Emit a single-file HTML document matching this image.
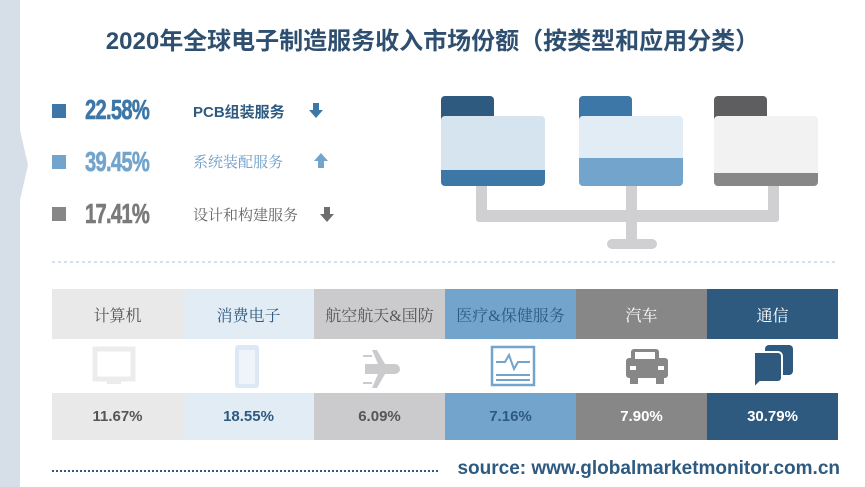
<!DOCTYPE html>
<html><head><meta charset="utf-8"><style>
*{margin:0;padding:0;box-sizing:border-box}
body{width:865px;height:487px;background:#fff;position:relative;overflow:hidden;font-family:"Liberation Sans","Noto Sans CJK SC",sans-serif}
.a{position:absolute}
.title{left:0;width:865px;top:21px;text-align:center;font-size:24px;font-weight:bold;color:#2e4f6f;padding-left:0px}
.sq{width:14px;height:14px;left:52px}
.num{left:85px;font-family:"Liberation Sans",sans-serif;font-weight:bold;font-size:28px;letter-spacing:-1px;transform:scaleX(0.72);transform-origin:left;-webkit-text-stroke:0.6px currentColor}
.lbl{left:193px;font-size:15px;font-family:"Liberation Serif","Noto Serif CJK SC",serif}
.cell{position:absolute;width:131px;display:flex;align-items:center;justify-content:center;font-size:16px;font-family:"Liberation Serif","Noto Serif CJK SC",serif}
.h{top:289px;height:50px}
.v{top:393px;height:47px;font-weight:bold;font-size:15px;font-family:"Liberation Sans",sans-serif}
</style></head><body>
<svg class="a" style="left:0;top:0" width="30" height="487"><polygon points="0,0 20,0 20,130 28,165 20,200 20,487 0,487" fill="#d6dfe8"/></svg>
<div class="a title">2020年全球电子制造服务收入市场份额（按类型和应用分类）</div>

<div class="a sq" style="top:104px;background:#3d77a8"></div>
<div class="a num" style="top:94px;color:#3d77a8">22.58%</div>
<div class="a lbl" style="top:101px;color:#2e5a80;font-weight:bold;font-family:'Liberation Sans','Noto Sans CJK SC',sans-serif">PCB组装服务</div>
<svg class="a" style="left:308px;top:103px" width="16" height="16"><polygon points="5,0 11,0 11,7 15,7 8,15 1,7 5,7" fill="#3d77a8"/></svg>

<div class="a sq" style="top:155px;background:#72a4cc"></div>
<div class="a num" style="top:146px;color:#72a4cc">39.45%</div>
<div class="a lbl" style="top:151px;color:#6a9cc7">系统装配服务</div>
<svg class="a" style="left:313px;top:153px" width="16" height="16"><polygon points="5,15 11,15 11,8 15,8 8,0 1,8 5,8" fill="#72a4cc"/></svg>

<div class="a sq" style="top:207px;background:#878787"></div>
<div class="a num" style="top:198px;color:#7a7a7a">17.41%</div>
<div class="a lbl" style="top:204px;color:#666">设计和构建服务</div>
<svg class="a" style="left:319px;top:207px" width="16" height="16"><polygon points="5,0 11,0 11,7 15,7 8,15 1,7 5,7" fill="#6e6e6e"/></svg>

<svg class="a" style="left:0;top:0" width="865" height="487">
<rect x="476" y="180" width="11" height="40" fill="#d0d0d2"/>
<rect x="626" y="180" width="11" height="62" fill="#d0d0d2"/>
<rect x="768" y="180" width="11" height="40" fill="#d0d0d2"/>
<rect x="476" y="210" width="303" height="12" rx="3" fill="#d0d0d2"/>
<rect x="607" y="239" width="50" height="10" rx="5" fill="#d0d0d2"/>
<rect x="441" y="96" width="53" height="30" rx="4" fill="#2e5a80"/>
<rect x="441" y="116" width="104" height="70" rx="4" fill="#d6e4f0"/>
<path d="M441,170h104v12a4,4 0 0 1-4,4h-96a4,4 0 0 1-4-4z" fill="#3d77a8"/>
<rect x="579" y="96" width="53" height="30" rx="4" fill="#3d77a8"/>
<rect x="579" y="116" width="104" height="70" rx="4" fill="#e2ecf5"/>
<path d="M579,158h104v24a4,4 0 0 1-4,4h-96a4,4 0 0 1-4-4z" fill="#72a4cc"/>
<rect x="714" y="96" width="53" height="30" rx="4" fill="#5e5e60"/>
<rect x="714" y="116" width="104" height="70" rx="4" fill="#f2f2f2"/>
<path d="M714,173h104v9a4,4 0 0 1-4,4h-96a4,4 0 0 1-4-4z" fill="#878787"/>
<line x1="52" y1="262" x2="838" y2="262" stroke="#a9c2d8" stroke-width="1" stroke-dasharray="3,3"/>
<line x1="52" y1="471" x2="440" y2="471" stroke="#2e5a80" stroke-width="2" stroke-dasharray="2,2"/>
<rect x="95" y="349" width="38" height="30" fill="none" stroke="#ececec" stroke-width="5"/>
<rect x="107" y="379" width="14" height="5" fill="#ececec"/>
<rect x="235" y="345" width="24" height="43" rx="3" fill="#dce8f3"/>
<rect x="239" y="350" width="16" height="34" fill="#eef4fa"/>
<g fill="#cbcbcd"><path d="M365,364h30a5,5 0 0 1 0,10h-30z"/><polygon points="378,364 385,364 377,350 372,350"/><polygon points="378,374 385,374 377,388 372,388"/><rect x="363" y="355" width="9" height="2"/><rect x="363" y="382" width="9" height="2"/></g>
<rect x="492" y="347" width="42" height="38" fill="none" stroke="#72a4cc" stroke-width="2.5"/>
<polyline points="496,362 505,362 509,355 514,369 518,362 530,362" fill="none" stroke="#72a4cc" stroke-width="2"/>
<rect x="496" y="374" width="34" height="2" fill="#72a4cc"/><rect x="496" y="379" width="34" height="2" fill="#72a4cc"/>
<g fill="#878787"><rect x="631" y="349" width="28" height="14" rx="3"/><rect x="626" y="358" width="42" height="20" rx="3"/><rect x="630" y="378" width="8" height="6"/><rect x="656" y="378" width="8" height="6"/></g>
<rect x="635" y="352" width="20" height="7" fill="#fff"/>
<rect x="630" y="366" width="6" height="4" fill="#fff"/><rect x="658" y="366" width="6" height="4" fill="#fff"/>
<rect x="765" y="345" width="28" height="30" rx="4" fill="#2e5a80"/>
<path d="M754,352h24a4,4 0 0 1 4,4v22a4,4 0 0 1-4,4h-18l-6,6z" fill="#2e5a80" stroke="#fff" stroke-width="2"/>
</svg>

<div class="cell h" style="left:52px;background:#e9e9e9;color:#555">计算机</div>
<div class="cell h" style="left:183px;background:#e2ecf5;color:#2e5a80">消费电子</div>
<div class="cell h" style="left:314px;background:#cbcbcd;color:#555">航空航天&amp;国防</div>
<div class="cell h" style="left:445px;background:#72a4cc;color:#2e5a80">医疗&amp;保健服务</div>
<div class="cell h" style="left:576px;background:#878787;color:#fff">汽车</div>
<div class="cell h" style="left:707px;background:#2e5a80;color:#fff">通信</div>

<div class="cell v" style="left:52px;background:#e9e9e9;color:#555">11.67%</div>
<div class="cell v" style="left:183px;background:#e2ecf5;color:#2e5a80">18.55%</div>
<div class="cell v" style="left:314px;background:#cbcbcd;color:#555">6.09%</div>
<div class="cell v" style="left:445px;background:#72a4cc;color:#2e5a80">7.16%</div>
<div class="cell v" style="left:576px;background:#878787;color:#fff">7.90%</div>
<div class="cell v" style="left:707px;background:#2e5a80;color:#fff">30.79%</div>

<div class="a" style="right:25px;top:458px;font-size:19px;font-weight:bold;color:#2e5a80">source: www.globalmarketmonitor.com.cn</div>
</body></html>
